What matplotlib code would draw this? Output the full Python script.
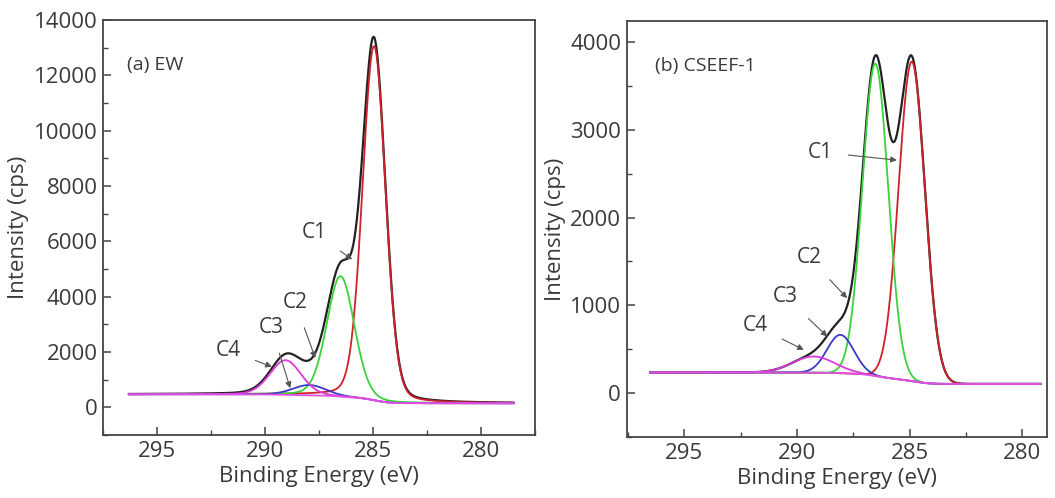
"""C1s XPS peak fits for EW and CSEEF-1, side by side."""

import numpy as np
import matplotlib

matplotlib.use("Agg")
import matplotlib.pyplot as plt
from matplotlib.ticker import MultipleLocator

plt.rcParams["font.family"] = ["Open Sans", "DejaVu Sans"]

# peak parameters: centre (eV), height above background (cps), FWHM (eV)
COMPONENTS = ["C1", "C2", "C3", "C4"]
COLORS = ["#d0202a", "#3ad23a", "#3a3ac8", "#d83ad8"]

ew_centers = [284.95, 286.5, 287.95, 289.05]
ew_heights = [12800, 4350, 370, 1250]
ew_fwhm = [1.25, 1.5, 1.8, 1.7]
ew_eta = 0.15               # Lorentzian share of the line shape
ew_bg = [470, 145]          # background at high / low binding energy end
ew_range = [296.3, 278.5]

cs_centers = [284.9, 286.52, 288.07, 289.25]
cs_heights = [3640, 3560, 437, 185]
cs_fwhm = [1.37, 1.35, 1.4, 2.2]
cs_eta = 0.0
cs_bg = [235, 105]
cs_range = [296.5, 279.2]

# label text position and arrow tip, in data coords
ew_labels = {
    "C1": ((287.7, 6300), (285.96, 5345)),
    "C2": ((288.6, 3780), (287.67, 1780)),
    "C3": ((289.7, 2870), (288.83, 690)),
    "C4": ((291.7, 2070), (289.68, 1465)),
}
cs_labels = {
    "C1": ((288.95, 2745), (285.56, 2654)),
    "C2": ((289.47, 1547), (287.77, 1081)),
    "C3": ((290.5, 1099), (288.65, 644)),
    "C4": ((291.83, 766), (289.69, 493)),
}


def peak(x, c, h, w, eta):
    s = w / 2.3548
    g = np.exp(-((x - c) ** 2) / (2 * s * s))
    lor = 1.0 / (1.0 + (2 * (x - c) / w) ** 2)
    return h * ((1 - eta) * g + eta * lor)


def shirley(x, peaks, hi, lo):
    # x runs from high to low binding energy
    tot = np.sum(peaks, axis=0)
    cum = np.cumsum(tot[::-1])[::-1]
    return lo + (hi - lo) * cum / cum[0]


def draw(ax, centers, heights, fwhm, eta, bg, rng, labels):
    x = np.linspace(rng[0], rng[1], 900)
    peaks = [peak(x, c, h, w, eta) for c, h, w in zip(centers, heights, fwhm)]
    base = shirley(x, peaks, bg[0], bg[1])
    ax.plot(x, base + np.sum(peaks, axis=0), color="#222222", lw=1.6)
    for p, col in zip(peaks, COLORS):
        ax.plot(x, base + p, color=col, lw=1.3)
    ax.plot(x, base, color="#e050e0", lw=1.3)
    for name, (txt, tip) in labels.items():
        ax.annotate(name, xy=tip, xytext=txt, ha="center", va="center",
                    fontsize=15, color="#3a3a3a",
                    arrowprops=dict(arrowstyle="-|>", color="#555555", lw=0.8,
                                    mutation_scale=9, shrinkA=9, shrinkB=0))


def style(ax):
    ax.tick_params(which="both", direction="in", top=False, right=False,
                   labelsize=16, labelcolor="#3a3a3a", color="#444444")
    ax.tick_params(which="major", length=6, width=1.1, pad=4)
    ax.tick_params(which="minor", length=3.5, width=1.0)
    for sp in ax.spines.values():
        sp.set_color("#444444")
        sp.set_linewidth(1.3)
    ax.xaxis.set_major_locator(MultipleLocator(5))
    ax.xaxis.set_minor_locator(MultipleLocator(2.5))
    ax.set_xlabel("Binding Energy (eV)", fontsize=16, color="#3a3a3a", labelpad=3)
    ax.set_ylabel("Intensity (cps)", fontsize=16, color="#3a3a3a", labelpad=3)


fig = plt.figure(figsize=(10.55, 4.98), dpi=100)
ax1 = fig.add_axes([0.0976, 0.1265, 0.4095, 0.8335])
ax2 = fig.add_axes([0.594, 0.1225, 0.3985, 0.8355])

draw(ax1, ew_centers, ew_heights, ew_fwhm, ew_eta, ew_bg, ew_range, ew_labels)
ax1.set_xlim(297.5, 277.5)
ax1.set_ylim(-1000, 14000)
ax1.yaxis.set_major_locator(MultipleLocator(2000))
ax1.yaxis.set_minor_locator(MultipleLocator(1000))
style(ax1)
ax1.text(0.056, 0.892, "(a) EW", transform=ax1.transAxes, fontsize=14,
         color="#3a3a3a", va="center")

draw(ax2, cs_centers, cs_heights, cs_fwhm, cs_eta, cs_bg, cs_range, cs_labels)
ax2.set_xlim(297.55, 278.9)
ax2.set_ylim(-500, 4240)
ax2.yaxis.set_major_locator(MultipleLocator(1000))
ax2.yaxis.set_minor_locator(MultipleLocator(500))
style(ax2)
ax2.text(0.067, 0.892, "(b) CSEEF-1", transform=ax2.transAxes, fontsize=14,
         color="#3a3a3a", va="center")

fig.savefig("out.png", dpi=100)
